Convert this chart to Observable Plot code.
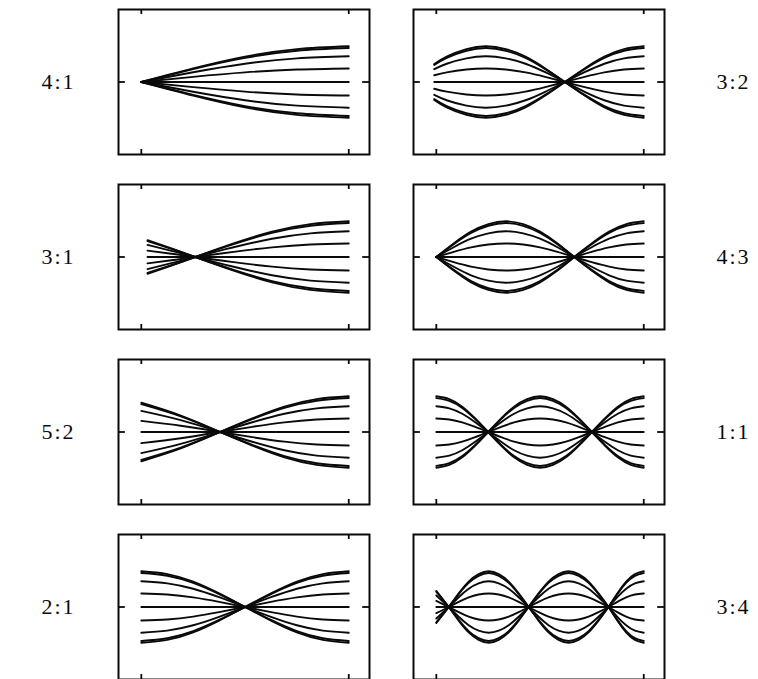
<!DOCTYPE html>
<html>
<head>
<meta charset="utf-8">
<script src="https://cdn.jsdelivr.net/npm/d3@7"></script>
<script src="https://cdn.jsdelivr.net/npm/@observablehq/plot@0.6"></script>
<style>
  html, body { margin: 0; padding: 0; background: #fff; overflow: hidden; }
  #chart svg { display: block; }
  #chart svg text { letter-spacing: 2px; }
</style>
</head>
<body>
<div id="chart"></div>
<script>
// Panel labels (ratio), column-major: left column top→bottom, then right column
const panelNames = ["4:1", "3:1", "5:2", "2:1", "3:2", "4:3", "1:1", "3:4"];
const panelCol   = [0, 0, 0, 0, 1, 1, 1, 1];
const panelRow   = [0, 1, 2, 3, 0, 1, 2, 3];

// Relative amplitudes of the family of curves drawn in every panel
const amplitudes = [1, 0.95, 0.72, 0.38, 0, -0.38, -0.72, -0.95, -1];

// Outer envelope of each panel: [x (0 = left tick, 1 = right tick), relative displacement]
const env41 = [[0, 0], [0.25, 0.38], [0.5, 0.71], [0.75, 0.92], [1, 1]];
const env31 = [[0.03, -0.47], [0.145, -0.24], [0.26, 0], [0.445, 0.38], [0.63, 0.71], [0.815, 0.92], [1, 1]];
const env52 = [[0, -0.82], [0.19, -0.46], [0.38, 0], [0.535, 0.38], [0.69, 0.71], [0.845, 0.92], [1, 1]];
const env21 = [[0, 1], [0.125, 0.92], [0.25, 0.71], [0.375, 0.38], [0.5, 0], [0.625, -0.38], [0.75, -0.71], [0.875, -0.92], [1, -1]];
const env32 = [[-0.01, 0.5], [0.05, 0.71], [0.145, 0.92], [0.24, 1], [0.335, 0.92], [0.43, 0.71], [0.525, 0.38], [0.62, 0], [0.715, -0.38], [0.81, -0.71], [0.905, -0.92], [1, -1]];
const env43 = [[0, 0], [0.084, 0.38], [0.1675, 0.71], [0.251, 0.92], [0.335, 1], [0.419, 0.92], [0.5, 0.71], [0.584, 0.38], [0.665, 0], [0.749, -0.38], [0.833, -0.71], [0.916, -0.92], [1, -1]];
const env11 = [[0, 1], [0.0625, 0.92], [0.125, 0.71], [0.1875, 0.38], [0.25, 0], [0.3125, -0.38], [0.375, -0.71], [0.4375, -0.92], [0.5, -1], [0.5625, -0.92], [0.625, -0.71], [0.6875, -0.38], [0.75, 0], [0.8125, 0.38], [0.875, 0.71], [0.9375, 0.92], [1, 1]];
const env34 = [[0, -0.45], [0.06, 0], [0.108, 0.38], [0.156, 0.71], [0.204, 0.92], [0.2525, 1], [0.301, 0.92], [0.349, 0.71], [0.397, 0.38], [0.445, 0], [0.493, -0.38], [0.541, -0.71], [0.589, -0.92], [0.6375, -1], [0.686, -0.92], [0.734, -0.71], [0.782, -0.38], [0.83, 0], [0.8725, 0.38], [0.915, 0.71], [0.9575, 0.92], [1, 1]];
const envelopes = [env41, env31, env52, env21, env32, env43, env11, env34];

// Tick positions of each panel frame
const xTicks = [0, 1];
const yTicks = [0];

// Build the table the library needs
const curves = [];
panelNames.forEach((name, i) => {
  amplitudes.forEach((a, k) => {
    envelopes[i].forEach(([x, v], j) => {
      curves.push({panel: name, col: panelCol[i], row: panelRow[i], key: name + "#" + k, x, y: a * v, first: k === 0 && j === 0});
    });
  });
});

const ink = "#0a0a0a";
const serif = "'Liberation Serif', 'DejaVu Serif', serif";

const chart = Plot.plot({
  width: 758,
  height: 681,
  marginLeft: 118,
  marginRight: 93,
  marginTop: 8,
  marginBottom: 0,
  facet: {data: curves, x: "col", y: "row"},
  fx: {paddingInner: 0.149, paddingOuter: 0, axis: null},
  fy: {paddingInner: 0.169, paddingOuter: 0, axis: null},
  x: {domain: [-0.11, 1.1], axis: null},
  y: {domain: [-2.03, 2.03], axis: null},
  style: {background: "#fff", color: ink},
  marks: [
    Plot.frame({stroke: ink, strokeWidth: 2}),
    Plot.ruleX(xTicks, {x: d => d, y1: 2.03, y2: 1.89, stroke: ink, strokeWidth: 1.8}),
    Plot.ruleX(xTicks, {x: d => d, y1: -2.03, y2: -1.89, stroke: ink, strokeWidth: 1.8}),
    Plot.ruleY(yTicks, {y: d => d, x1: -0.11, x2: -0.077, stroke: ink, strokeWidth: 1.8}),
    Plot.ruleY(yTicks, {y: d => d, x1: 1.1, x2: 1.067, stroke: ink, strokeWidth: 1.8}),
    Plot.line(curves, {x: "x", y: "y", z: "key", curve: "natural", stroke: ink, strokeWidth: 1.9}),
    Plot.text(curves, {filter: d => d.first && d.col === 0, text: "panel", frameAnchor: "left", dx: -77, fontSize: 22, fontFamily: serif, fill: ink}),
    Plot.text(curves, {filter: d => d.first && d.col === 1, text: "panel", frameAnchor: "right", dx: 86, fontSize: 22, fontFamily: serif, fill: ink})
  ]
});

document.getElementById("chart").appendChild(chart);
</script>
</body>
</html>
